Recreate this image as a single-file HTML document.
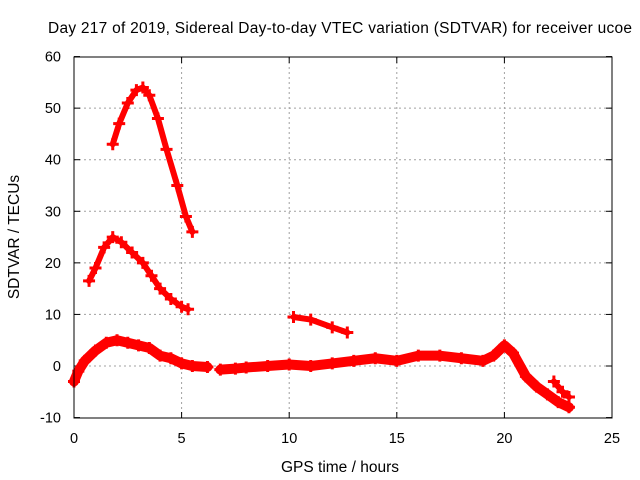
<!DOCTYPE html>
<html><head><meta charset="utf-8"><style>
body{margin:0;background:#fff;}
svg{display:block;font-family:"Liberation Sans",sans-serif;}
</style></head><body>
<svg id="chart" width="640" height="480">
<text x="340" y="33" font-size="15.5" text-anchor="middle" textLength="584">Day 217 of 2019, Sidereal Day-to-day VTEC variation (SDTVAR) for receiver ucoe</text>
<text transform="translate(19,237) rotate(-90)" font-size="15.5" text-anchor="middle">SDTVAR / TECUs</text>
<text x="340" y="472" font-size="15.5" text-anchor="middle">GPS time / hours</text>
<g id="grid"></g><g id="axes"></g><g id="series"></g>
<rect x="74" y="57" width="538" height="361" fill="none" stroke="#000" stroke-width="1"/>
</svg>
<script>
const xTicks=[0,5,10,15,20,25];
const yTicks=[-10,0,10,20,30,40,50,60];
const s1=[[1.8,43],[2.1,47],[2.5,51],[2.9,53.5],[3.2,54],[3.5,52.5],[3.9,48],[4.3,42],[4.8,35],[5.2,29],[5.5,26]];
const s2=[[0.7,16.5],[1.0,19],[1.4,23],[1.8,25],[2.2,24],[2.7,22],[3.2,20],[3.6,17.5],[4.0,15],[4.5,13],[5.0,11.5],[5.3,11]];
const s3=[[0,-3],[0.2,-1],[0.5,1],[1,3],[1.5,4.5],[2,5],[2.5,4.5],[3,4],[3.5,3.5],[4,2],[4.5,1.5],[5,0.5],[5.5,0],[6.2,-0.2]];
const s6=[[6.8,-0.7],[7.5,-0.5],[8,-0.3],[9,0],[10,0.3],[11,0],[12,0.5],[13,1],[14,1.5],[15,1],[16,2],[17,2],[18,1.5],[19,1],[19.5,2],[20,4],[20.4,2.5],[21,-2],[21.5,-4],[22,-5.5],[22.5,-7],[23,-8]];
const s4=[[10.2,9.5],[11,9],[12,7.5],[12.7,6.5]];
const s5=[[22.3,-3],[22.7,-5],[23,-6]];
const X=v=>74+v*538/25, Y=v=>366-v*361/70;
const NS="http://www.w3.org/2000/svg";
function mk(t,a,p){const e=document.createElementNS(NS,t);for(const k in a)e.setAttribute(k,a[k]);p.appendChild(e);return e;}
const g=document.getElementById('grid'),ax=document.getElementById('axes'),sg=document.getElementById('series');
xTicks.forEach(t=>{
 if(t>0&&t<25){const l=mk('line',{x1:X(t),x2:X(t),y1:57,y2:418,stroke:'#a0a0a0','stroke-dasharray':'2,3'},g);
 }
 mk('line',{x1:X(t),x2:X(t),y1:418,y2:412,stroke:'#000'},ax);
 mk('line',{x1:X(t),x2:X(t),y1:57,y2:63,stroke:'#000'},ax);
 const tx=mk('text',{x:X(t),y:443,'font-size':14.5,'text-anchor':'middle'},ax);tx.textContent=t;
 
});
yTicks.forEach(t=>{
 if(t>-10&&t<60){const l=mk('line',{x1:74,x2:612,y1:Y(t),y2:Y(t),stroke:'#a0a0a0','stroke-dasharray':'2,3'},g);
 }
 mk('line',{x1:74,x2:80,y1:Y(t),y2:Y(t),stroke:'#000'},ax);
 mk('line',{x1:612,x2:606,y1:Y(t),y2:Y(t),stroke:'#000'},ax);
 const tx=mk('text',{x:61,y:Y(t)+5,'font-size':14.5,'text-anchor':'end'},ax);tx.textContent=t;
 
});
[s1,s2,s3,s4,s5,s6].forEach((s,i)=>{
 const w=(i==2||i==5)?10:6;
 const p=mk('polyline',{points:s.map(d=>X(d[0])+','+Y(d[1])).join(' '),fill:'none',stroke:'#f00','stroke-width':w,'stroke-linejoin':'round','stroke-linecap':'round'},sg);
 
 
 s.forEach(d=>{const m=mk('path',{d:`M${X(d[0])-6},${Y(d[1])}h12M${X(d[0])},${Y(d[1])-6}v12`,stroke:'#f00','stroke-width':3},sg);
 
 });
});
</script>
</body></html>
